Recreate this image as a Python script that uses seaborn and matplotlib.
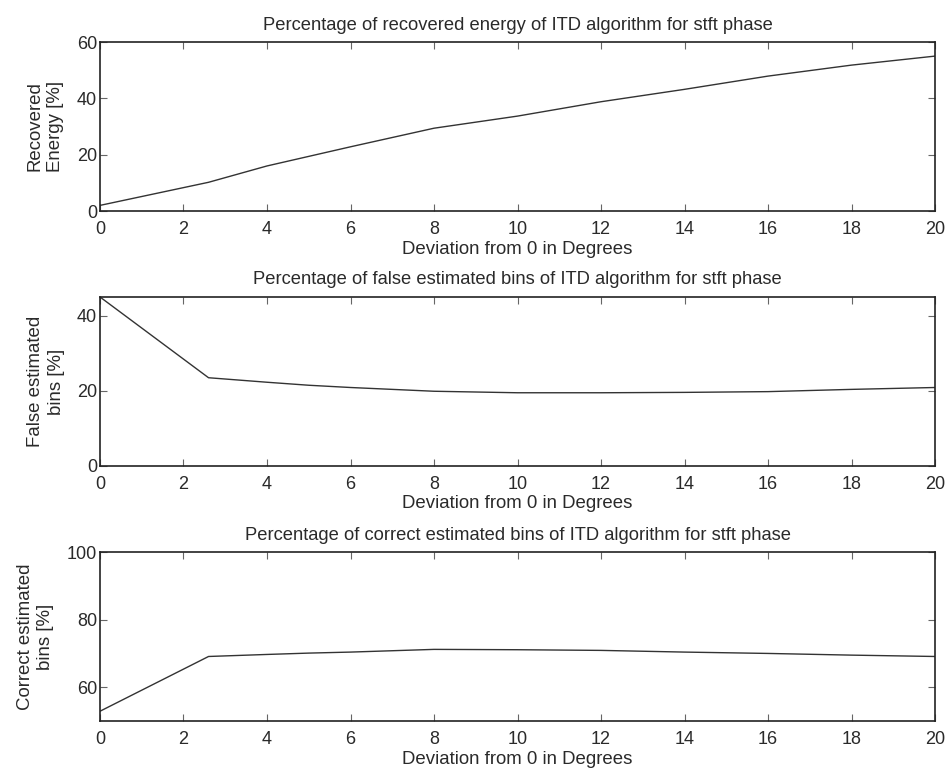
import numpy as np
import pandas as pd
import matplotlib
matplotlib.use("Agg")
import matplotlib.pyplot as plt
import seaborn as sns

deviation = [0, 2.6, 4, 5, 6, 8, 10, 12, 14, 16, 18, 20]
recovered_energy = [2.0, 10.2, 16.0, 19.4, 22.8, 29.4, 33.7, 38.8, 43.2, 47.9, 51.8, 55.0]
false_bins = [45.0, 23.5, 22.3, 21.5, 20.9, 19.9, 19.5, 19.5, 19.6, 19.8, 20.4, 20.9]
correct_bins = [52.9, 69.1, 69.7, 70.1, 70.4, 71.2, 71.1, 70.9, 70.4, 70.0, 69.5, 69.1]

x_ticks = list(range(0, 21, 2))

sns.set_theme(style="ticks")
plt.rcParams['font.family'] = ['Liberation Sans', 'DejaVu Sans']

df = pd.DataFrame({
    'deviation': deviation,
    'energy': recovered_energy,
    'false': false_bins,
    'correct': correct_bins,
})

panels = [
    ('energy', 'Recovered\nEnergy [%]',
     'Percentage of recovered energy of ITD algorithm for stft phase',
     (0, 60), [0, 20, 40, 60]),
    ('false', 'False estimated\nbins [%]',
     'Percentage of false estimated bins of ITD algorithm for stft phase',
     (0, 45), [0, 20, 40]),
    ('correct', 'Correct estimated\nbins [%]',
     'Percentage of correct estimated bins of ITD algorithm for stft phase',
     (50, 100), [60, 80, 100]),
]

fig = plt.figure(figsize=(9.46, 7.71), dpi=100)
bottoms = [0.7263, 0.3956, 0.0648]
txt = '#2a2a2a'

for (col, ylab, title, ylim, yticks), b in zip(panels, bottoms):
    ax = fig.add_axes([0.1057, b, 0.8827, 0.2192])
    sns.lineplot(data=df, x='deviation', y=col, ax=ax, color='#333333',
                 linewidth=1.0)
    ax.set_xlim(0, 20)
    ax.set_ylim(*ylim)
    ax.set_xticks(x_ticks)
    ax.set_yticks(yticks)
    ax.tick_params(direction='in', top=True, right=True, length=5,
                   width=0.8, color='#666666', labelsize=13,
                   labelcolor=txt)
    ax.tick_params(axis='x', pad=7)
    ax.tick_params(axis='y', pad=2)
    for s in ax.spines.values():
        s.set_linewidth(1.2)
        s.set_color('#222222')
    ax.set_title(title, fontsize=13.2, color=txt, pad=9)
    ax.set_xlabel('Deviation from 0 in Degrees', fontsize=13.4,
                  color=txt, labelpad=2)
    ax.set_ylabel(ylab, fontsize=13.4, color=txt, labelpad=9,
                  linespacing=1.3)

fig.savefig('out.png', dpi=100)
